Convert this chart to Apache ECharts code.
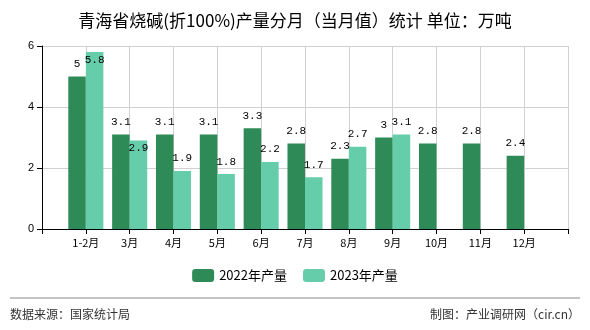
<!DOCTYPE html>
<html><head><meta charset="utf-8">
<script src="https://cdn.jsdelivr.net/npm/echarts@6/dist/echarts.min.js"></script>
<style>html,body{margin:0;padding:0;background:#fff}#c{width:590px;height:330px}</style>
</head><body><div id="c"></div>
<script>
var categories = ['', '1-2月', '3月', '4月', '5月', '6月', '7月', '8月', '9月', '10月', '11月', '12月', ''];
var s2022 = [null, 5, 3.1, 3.1, 3.1, 3.3, 2.8, 2.3, 3, 2.8, 2.8, 2.4, null];
var s2023 = [null, 5.8, 2.9, 1.9, 1.8, 2.2, 1.7, 2.7, 3.1, null, null, null, null];
var yTicks = [0, 2, 4, 6];
var names = ['2022年产量', '2023年产量'];

var labelFont = {fontFamily: 'Liberation Mono', fontSize: 11, color: '#000'};
var insideIdx = [1, 2];
var d2023 = s2023.map(function (v, i) {
  if (insideIdx.indexOf(i) >= 0 && v != null) {
    return {value: v, label: {position: 'insideTop', distance: 2}};
  }
  return v;
});

var chart = echarts.init(document.getElementById('c'));
chart.setOption({
  animation: false,
  title: {
    text: '青海省烧碱(折100%)产量分月（当月值）统计 单位：万吨',
    left: 'center', top: 7,
    textStyle: {fontSize: 17, fontWeight: 'normal', color: '#000', fontFamily: 'Noto Sans CJK SC'}
  },
  grid: {left: 42, right: 22, top: 46, bottom: 101},
  legend: {
    data: names, bottom: 43, left: 'center', itemWidth: 22, itemHeight: 13, itemGap: 16,
    textStyle: {fontSize: 13, color: '#000', fontFamily: 'Noto Sans CJK SC'}
  },
  xAxis: {
    type: 'category', data: categories, boundaryGap: false,
    axisLine: {lineStyle: {color: '#000'}},
    axisTick: {lineStyle: {color: '#000'}},
    axisLabel: {color: '#000', fontSize: 11, interval: 0, fontFamily: 'Noto Sans CJK SC'},
    splitLine: {show: true, lineStyle: {color: '#d0d0d0'}}
  },
  yAxis: {
    type: 'value', min: yTicks[0], max: yTicks[yTicks.length - 1], interval: 2,
    axisLine: {show: true, lineStyle: {color: '#000'}},
    axisTick: {show: true, lineStyle: {color: '#000'}},
    axisLabel: {color: '#000', fontSize: 11, fontFamily: 'Liberation Sans'},
    splitLine: {lineStyle: {color: '#d0d0d0'}}
  },
  series: [
    {name: names[0], type: 'bar', data: s2022, barGap: '0%', barCategoryGap: '20%',
     itemStyle: {color: '#2e8b57'},
     label: Object.assign({show: true, position: 'top', distance: 7}, labelFont)},
    {name: names[1], type: 'bar', data: d2023, barGap: '0%', barCategoryGap: '20%',
     itemStyle: {color: '#66cdaa'},
     label: Object.assign({show: true, position: 'top', distance: 7}, labelFont)}
  ],
  graphic: [
    {type: 'line', shape: {x1: 10, y1: 298, x2: 580, y2: 298}, style: {stroke: '#888', lineWidth: 1}},
    {type: 'text', left: 10, top: 308, style: {text: '数据来源：国家统计局', fontSize: 12, fill: '#333', fontFamily: 'Noto Sans CJK SC'}},
    {type: 'text', right: 10, top: 308, style: {text: '制图：产业调研网（cir.cn）', fontSize: 12, fill: '#333', fontFamily: 'Noto Sans CJK SC'}}
  ]
});
</script></body></html>
